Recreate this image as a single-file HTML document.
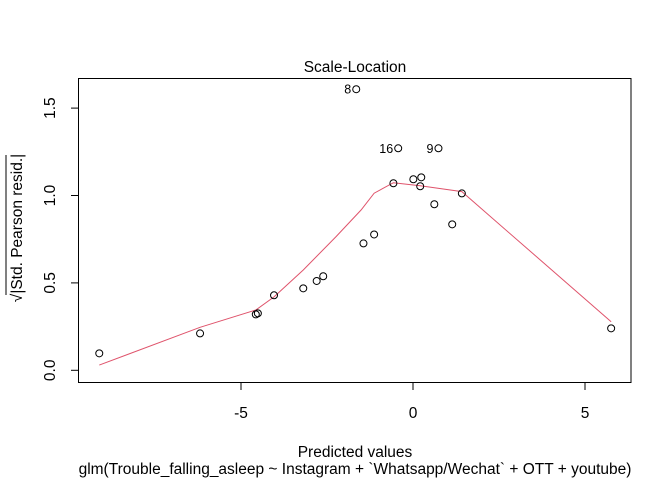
<!DOCTYPE html>
<html><head><meta charset="utf-8"><style>
body{margin:0;background:#fff}
svg text{font-family:"Liberation Sans",Arial,sans-serif;fill:#000}
</style></head><body>
<svg width="672" height="480" viewBox="0 0 672 480" xmlns="http://www.w3.org/2000/svg">
<rect width="672" height="480" fill="#fff"/>
<g id="plot"></g>
</svg>
<script>
const xs=[-9.12,-6.19,-4.57,-4.51,-4.04,-3.19,-2.80,-2.61,-1.65,-0.43,0.74,-0.57,0.01,0.24,0.21,1.42,0.62,1.14,-1.44,-1.13,5.76];
const ys=[0.097,0.211,0.320,0.326,0.429,0.469,0.511,0.538,1.608,1.270,1.270,1.070,1.093,1.104,1.053,1.012,0.950,0.835,0.726,0.777,0.240];
const ptLabels=["","","","","","","","","8","16","9","","","","","","","","","",""];
const smoothX=[-9.12,-6.19,-4.57,-4.04,-3.19,-2.24,-1.51,-1.13,-0.57,0.21,1.42,5.76];
const smoothY=[0.030,0.246,0.345,0.420,0.574,0.764,0.917,1.013,1.073,1.056,1.022,0.278];
const xTicks=[-5,0,5];
const yTicks=[0.0,0.5,1.0,1.5];
const yTickLabels=["0.0","0.5","1.0","1.5"];
const NS="http://www.w3.org/2000/svg";
const g=document.getElementById('plot');
const X=v=>413+v*34.4, Y=v=>370.3-v*174.8;
function mk(t,a,txt){const e=document.createElementNS(NS,t);for(const k in a)e.setAttribute(k,a[k]);if(txt!==undefined)e.textContent=txt;g.appendChild(e);return e;}
let e;
e=mk('rect',{x:78.5,y:78.5,width:552.5,height:304,fill:'none',stroke:'#000','stroke-width':1});


e=mk('polyline',{points:smoothX.map((v,i)=>X(v)+','+Y(smoothY[i])).join(' '),fill:'none',stroke:'#DF536B','stroke-width':1});


xs.forEach((v,i)=>{
 e=mk('circle',{cx:X(v),cy:Y(ys[i]),r:3.5,fill:'none',stroke:'#000','stroke-width':1});
 
 
 if(ptLabels[i]){
  e=mk('text',{x:X(v)-5,y:Y(ys[i])+4.5,'font-size':12.5,'text-anchor':'end'},ptLabels[i]);
  
  
 }
});
xTicks.forEach(v=>{
 e=mk('line',{x1:X(v),x2:X(v),y1:382.5,y2:390,stroke:'#000'});
 
 
 e=mk('text',{x:X(v),y:418,'font-size':15.5,'text-anchor':'middle'},String(v));
 
 
});
yTicks.forEach((v,i)=>{
 e=mk('line',{x1:71,x2:78.5,y1:Y(v),y2:Y(v),stroke:'#000'});
 
 
 e=mk('text',{x:0,y:0,'font-size':15.5,'text-anchor':'middle',transform:`translate(55,${Y(v)}) rotate(-90)`},yTickLabels[i]);
 
 
});
e=mk('text',{x:355,y:72,'font-size':15.5,'text-anchor':'middle'},'Scale-Location');


e=mk('text',{x:355,y:457,'font-size':15.5,'text-anchor':'middle'},'Predicted values');


e=mk('text',{x:355,y:474,'font-size':15.5,'text-anchor':'middle'},'glm(Trouble_falling_asleep ~ Instagram + `Whatsapp/Wechat` + OTT + youtube)');


e=mk('text',{x:0,y:0,'font-size':15.5,'text-anchor':'middle',transform:'translate(22,228) rotate(-90)'},'√|Std. Pearson resid.|');


e=mk('line',{x1:6,x2:6,y1:155,y2:295,stroke:'#000','stroke-width':1});


</script>
</body></html>
